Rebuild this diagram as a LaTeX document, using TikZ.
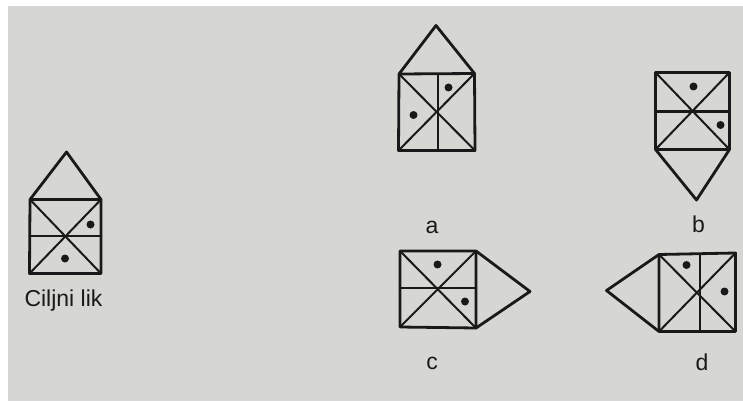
\documentclass[tikz,border=0pt]{standalone}
\usepackage{fontspec}
\setmainfont{Liberation Sans}
\definecolor{paper}{RGB}{214,214,210}
\definecolor{ink}{RGB}{25,25,25}
\tikzset{
  outline/.style={draw=ink,line width=2.8pt,line join=round,line cap=round},
  inner/.style={draw=ink,line width=2.0pt,line cap=round},
  dot/.style={circle,fill=ink,inner sep=0pt,minimum size=8pt},
  lab/.style={text=ink,font=\fontsize{23}{27}\selectfont,anchor=base,inner sep=0pt}
}
\begin{document}
\begin{tikzpicture}[x=1pt,y=-1pt]
\useasboundingbox (0,0) rectangle (743,401);
\fill[white] (0,0) rectangle (743,401);
\fill[paper] (8,6) rectangle (743,401);

% ---- target figure ----
\coordinate (T-tl) at (30,199.5);
\coordinate (T-tr) at (101,199.5);
\coordinate (T-bl) at (29.5,273.5);
\coordinate (T-br) at (101,273.5);
\coordinate (T-ml) at (30,236);
\coordinate (T-mr) at (101,236);
\coordinate (T-ap) at (66.5,152);
\draw[inner] (T-tl) -- (T-br);
\draw[inner] (T-tr) -- (T-bl);
\draw[outline] (T-ml) -- (T-mr);
\draw[outline] (T-bl) -- (T-tl) -- (T-tr) -- (T-br) -- cycle;
\draw[outline] (T-tl) -- (T-ap) -- (T-tr);
\node[dot] (T-d1) at (90.5,224.5) {};
\node[dot] (T-d2) at (65,258.5) {};
\node[lab] (T-lab) at (63.5,306.5) {Ciljni lik};

% ---- a ----
\coordinate (A-tl) at (399,74);
\coordinate (A-tr) at (474.5,73.5);
\coordinate (A-bl) at (398.5,150.5);
\coordinate (A-br) at (475,150.5);
\coordinate (A-mt) at (437.5,74);
\coordinate (A-mb) at (437.5,150.5);
\coordinate (A-ap) at (436,25.5);
\draw[inner] (A-tl) -- (A-br);
\draw[inner] (A-tr) -- (A-bl);
\draw[inner] (A-mt) -- (A-mb);
\draw[outline] (A-bl) -- (A-tl) -- (A-tr) -- (A-br) -- cycle;
\draw[outline] (A-tl) -- (A-ap) -- (A-tr);
\node[dot] (A-d1) at (448.5,87.5) {};
\node[dot] (A-d2) at (413.5,115) {};
\node[lab] (A-lab) at (432,233.3) {a};

% ---- b ----
\coordinate (B-tl) at (655.5,72.5);
\coordinate (B-tr) at (729.5,72.5);
\coordinate (B-bl) at (655.5,149.5);
\coordinate (B-br) at (729.5,149.5);
\coordinate (B-ml) at (655.5,111.5);
\coordinate (B-mr) at (729.5,111.5);
\coordinate (B-ap) at (696.5,200);
\draw[inner] (B-tl) -- (B-br);
\draw[inner] (B-tr) -- (B-bl);
\draw[outline] (B-ml) -- (B-mr);
\draw[outline] (B-bl) -- (B-tl) -- (B-tr) -- (B-br) -- cycle;
\draw[outline] (B-bl) -- (B-ap) -- (B-br);
\node[dot] (B-d1) at (693.5,86.5) {};
\node[dot] (B-d2) at (720.5,125) {};
\node[lab] (B-lab) at (698.5,232) {b};

% ---- c ----
\coordinate (C-tl) at (400,251);
\coordinate (C-tr) at (476,251);
\coordinate (C-bl) at (400,327);
\coordinate (C-br) at (476,328);
\coordinate (C-ml) at (400,288);
\coordinate (C-mr) at (476,288);
\coordinate (C-ap) at (530,291.5);
\draw[inner] (C-tl) -- (C-br);
\draw[inner] (C-tr) -- (C-bl);
\draw[outline] (C-ml) -- (C-mr);
\draw[outline] (C-bl) -- (C-tl) -- (C-tr) -- (C-br) -- cycle;
\draw[outline] (C-tr) -- (C-ap) -- (C-br);
\node[dot] (C-d1) at (437.5,264.5) {};
\node[dot] (C-d2) at (465,301.5) {};
\node[lab] (C-lab) at (432,369.3) {c};

% ---- d ----
\coordinate (D-tl) at (659,254.5);
\coordinate (D-tr) at (735.5,253);
\coordinate (D-bl) at (659,331.5);
\coordinate (D-br) at (735.5,331.5);
\coordinate (D-mt) at (699.5,254);
\coordinate (D-mb) at (699.5,331.5);
\coordinate (D-ap) at (606.5,290.5);
\draw[inner] (D-tl) -- (D-br);
\draw[inner] (D-tr) -- (D-bl);
\draw[inner] (D-mt) -- (D-mb);
\draw[outline] (D-bl) -- (D-tl) -- (D-tr) -- (D-br) -- cycle;
\draw[outline] (D-tl) -- (D-ap) -- (D-bl);
\node[dot] (D-d1) at (686.5,265) {};
\node[dot] (D-d2) at (724.5,291.5) {};
\node[lab] (D-lab) at (702,370) {d};
\end{tikzpicture}
\end{document}
